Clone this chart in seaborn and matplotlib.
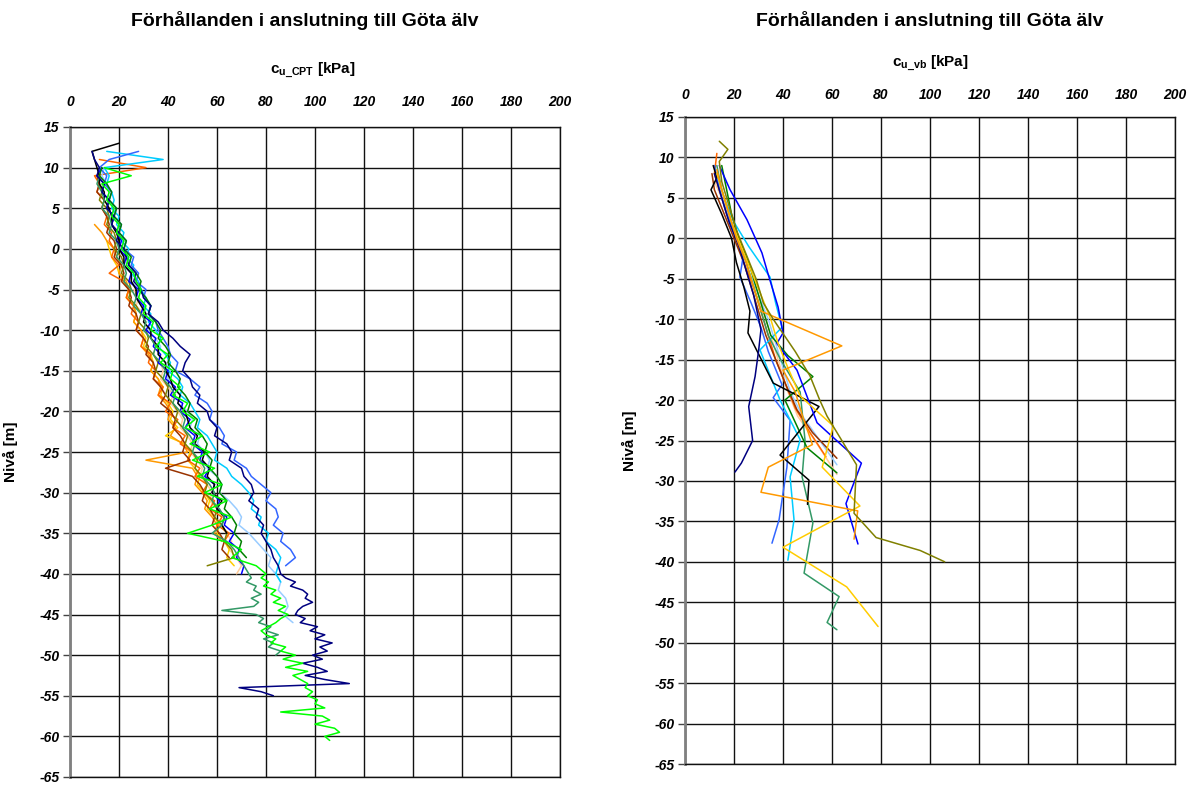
import numpy as np
import pandas as pd
import matplotlib
matplotlib.use("Agg")
import matplotlib.pyplot as plt
import seaborn as sns

sns.set_theme(style="white")
plt.rcParams["font.family"] = ["Liberation Sans", "DejaVu Sans"]
plt.rcParams["mathtext.fontset"] = "custom"
plt.rcParams["mathtext.rm"] = "Liberation Sans"
plt.rcParams["mathtext.bf"] = "Liberation Sans:bold"
plt.rcParams["mathtext.it"] = "Liberation Sans:italic"
plt.rcParams["axes.unicode_minus"] = False
plt.rcParams["text.color"] = "black"
plt.rcParams["axes.labelcolor"] = "black"
plt.rcParams["xtick.color"] = "black"
plt.rcParams["ytick.color"] = "black"

TITLE = "Förhållanden i anslutning till Göta älv"
X_TICKS = [0, 20, 40, 60, 80, 100, 120, 140, 160, 180, 200]
Y_TICKS = [15, 10, 5, 0, -5, -10, -15, -20, -25, -30, -35, -40, -45, -50, -55, -60, -65]

# ---------------- CPT soundings (cu_CPT, kPa); 1 m readings from a top level,
# deep parts of some soundings read every 0.5 m ----------------
cpt_black_top = 13
cpt_black = [20, 9, 10, 11, 12, 12, 14, 14, 16, 17, 17, 19, 20, 20, 22, 22, 25, 25, 27, 27,
             29, 31, 30, 33, 33, 36, 36, 39, 39, 41, 42, 45, 44, 47, 48, 49, 52, 51, 55, 54,
             57, 56, 59, 58, 62, 60, 63, 62, 64]

cpt_navy_top = 12
cpt_navy = [9, 10, 12, 11, 14, 13, 16, 15, 18, 17, 20, 19, 22, 23, 24, 27, 26, 29, 30, 33,
            32, 36, 38, 42, 45, 49, 47, 46, 49, 50, 53, 52, 56, 57, 60, 59, 64, 66, 65, 70,
            71, 74, 75, 73, 77, 76, 79, 78, 80, 82, 83, 85, 86]
cpt_navy_deep_top = -40.5
cpt_navy_deep = [88, 92, 90, 95, 97, 96, 99, 95, 93, 92, 96, 94, 101, 98, 104, 100, 107, 102, 105, 99,
                 103, 95, 101, 105, 96, 104, 114, 69, 78, 83]

cpt_blue_top = 10
cpt_blue = [13, 11, 14, 13, 16, 15, 18, 17, 19, 21, 20, 23, 22, 25, 24, 28, 27, 30, 29, 33,
            31, 35, 34, 37, 36, 40, 39, 43, 41, 46, 45, 49, 47, 51, 50, 54, 53, 57, 55, 59,
            58, 61, 60, 64, 63, 67, 65, 69, 68, 71, 70]

cpt_royal_top = 12
cpt_royal = [28, 16, 12, 15, 14, 17, 16, 19, 18, 21, 20, 23, 22, 26, 25, 28, 27, 31, 30, 33,
             32, 35, 36, 38, 40, 41, 44, 43, 49, 53, 51, 56, 58, 57, 61, 63, 62, 68, 67, 72,
             74, 78, 82, 80, 84, 85, 83, 87, 86, 90, 92, 88]

cpt_sky_top = 12
cpt_sky = [15, 38, 14, 16, 15, 17, 18, 17, 20, 19, 22, 21, 24, 23, 26, 25, 28, 29, 31, 30,
           33, 32, 35, 37, 36, 39, 41, 40, 44, 46, 45, 49, 51, 53, 52, 56, 58, 60, 59, 64,
           66, 70, 73, 75, 74, 78, 77, 81, 80, 84, 86, 85, 84, 86]

cpt_pale_top = 10
cpt_pale = [14, 13, 15, 16, 15, 18, 17, 20, 19, 22, 21, 24, 23, 26, 25, 28, 27, 30, 31, 33,
            32, 35, 37, 36, 39, 41, 40, 43, 45, 44, 48, 50, 49, 53, 52, 55, 57, 56, 60, 62,
            61, 65, 68, 70, 69, 73, 76, 79, 82, 81, 84, 86, 85, 88, 89, 87, 91]

cpt_lime_top = 10
cpt_lime = [14, 25, 13, 16, 15, 18, 17, 20, 19, 22, 21, 24, 23, 26, 27, 29, 28, 31, 30, 34,
            33, 38, 35, 40, 37, 42, 41, 45, 42, 48, 46, 51, 47, 54, 49, 57, 50, 59, 52, 62,
            55, 64, 57, 66, 58, 48, 63, 70, 66, 76, 80]
cpt_lime_deep_top = -40.5
cpt_lime_deep = [78, 81, 79, 84, 82, 86, 83, 88, 85, 89, 86, 84, 81, 78, 80, 84, 82, 88, 86, 92,
                 87, 95, 88, 97, 91, 94, 97, 96, 99, 97, 101, 100, 104, 86, 103, 106, 100, 108, 110, 104,
                 106]

cpt_green_top = 10
cpt_green = [13, 12, 15, 17, 16, 19, 18, 21, 20, 23, 22, 25, 24, 27, 29, 28, 31, 33, 32, 35,
             37, 36, 39, 41, 40, 43, 45, 44, 47, 49, 48, 52, 51, 54, 56, 55, 58, 57, 60, 62,
             61, 64, 63, 66, 68, 67, 70, 69, 72]

cpt_sea_top = 9
cpt_sea = [12, 11, 13, 14, 13, 16, 17, 16, 19, 20, 19, 22, 23, 22, 25, 27, 26, 29, 31, 30,
           33, 35, 34, 37, 39, 38, 41, 43, 42, 45, 47, 46, 49, 51, 50, 53, 55, 54, 57, 59,
           58, 61, 63, 62, 58, 64, 67, 69, 71, 73]
cpt_sea_deep_top = -40.5
cpt_sea_deep = [74, 72, 76, 75, 78, 74, 77, 75, 62, 76, 79, 77, 82, 80, 85, 79, 83, 81, 86, 84]

cpt_olive_top = 8
cpt_olive = [12, 13, 12, 15, 16, 15, 18, 19, 18, 21, 22, 21, 24, 25, 24, 27, 29, 28, 31, 32,
             31, 34, 36, 35, 38, 40, 39, 42, 44, 43, 46, 48, 47, 50, 52, 51, 54, 56, 55, 58,
             60, 59, 62, 64, 63, 66, 67, 56]

cpt_brown_top = 9
cpt_brown = [11, 12, 11, 14, 13, 15, 16, 15, 18, 19, 18, 21, 22, 21, 24, 25, 24, 27, 28, 27,
             30, 32, 31, 34, 35, 34, 37, 39, 37, 41, 43, 42, 45, 47, 46, 49, 39, 50, 53, 55,
             54, 57, 59, 58, 61, 63, 62, 65]

cpt_red_top = 11
cpt_red = [12, 31, 10, 12, 11, 14, 13, 15, 14, 17, 16, 18, 17, 20, 16, 22, 24, 23, 26, 25,
           28, 27, 30, 29, 33, 32, 35, 34, 38, 36, 41, 39, 44, 42, 47, 45, 50, 48, 53, 51,
           56, 54, 59, 57, 62, 60, 65, 63]

cpt_orange_top = 3
cpt_orange = [10, 13, 15, 18, 19, 21, 20, 23, 24, 23, 26, 27, 26, 29, 30, 29, 32, 34, 33, 36,
              37, 36, 39, 41, 40, 43, 41, 46, 48, 31, 50, 52, 51, 54, 56, 55, 58, 60, 59, 62]

cpt_gold_top = 1
cpt_gold = [15, 16, 17, 19, 20, 22, 24, 23, 26, 27, 26, 29, 31, 30, 33, 34, 33, 36, 38, 37,
            40, 42, 41, 44, 39, 47, 49, 48, 51, 53, 52, 55, 57, 56, 59, 61, 60, 63, 65, 64,
            67]

cpt_peach_top = -5
cpt_peach = [26, 28, 27, 30, 31, 30, 33, 35, 34, 37, 38, 37, 40, 42, 41, 44, 46, 45, 48, 50,
             49, 52, 54, 53, 56, 58, 57, 60, 62, 61, 64, 66, 65, 68, 70, 68]

# ---------------- Vane tests (cu_vb, kPa) ----------------
vb_olive_lvl = [12, 11, 9.5, 7, 4, 1, -2, -5, -8, -10, -14, -17, -20, -22, -25, -28, -31, -34, -37, -38.6, -40]
vb_olive = [14, 17.5, 14, 15, 18, 21, 25, 29, 32, 36, 45, 51, 55, 58, 64, 70, 69.5, 69, 78, 96, 106]

vb_orange_lvl = [8.5, 6, 3, 0, -3, -6, -9, -13.3, -16.3, -19, -22, -25.5, -28.3, -31.4, -33.7, -37.2]
vb_orange = [13, 15, 18, 21, 25, 28, 31, 64, 40, 45, 48, 52, 34, 31, 70.5, 69]

vb_gold_lvl = [8, 5, 2, -1, -4, -7, -10, -13, -16, -19.5, -23.2, -28.3, -33.1, -38.2, -43.1, -48]
vb_gold = [13, 16, 19, 23, 27, 31, 35, 38, 42, 47, 60.5, 56, 71.4, 40, 66, 78.8]

vb_navy_lvl = [8, 5, 2, -1, -4, -7, -11.3, -14, -17.1, -20.8, -25, -27.8, -28.9]
vb_navy = [12, 15, 18, 22, 25, 28, 31, 30, 28.6, 26, 27.6, 23, 20.4]

vb_black_lvl = [9, 7.5, 6, 3, 0, -3, -6, -9, -11.7, -17.9, -20.8, -26.8, -29.9, -32.9]
vb_black = [11.5, 13, 10.6, 15, 19, 21, 24, 26.5, 25.7, 36, 54.7, 38.8, 50.6, 50]

vb_blue_lvl = [9, 6, 2.3, -1.8, -4.5, -8.5, -11.7, -13, -16.3, -22.8, -27.8, -32.8, -37.8]
vb_blue = [14, 18.4, 25.3, 31.4, 34, 38, 40, 37.5, 45.7, 53.9, 72, 65.7, 70.6]

vb_royal_lvl = [9, 6, 3, 0, -2.3, -4.8, -8, -11, -14, -18.1, -19.7, -22.5, -28.3, -34.8, -37.7]
vb_royal = [12, 14, 17, 21, 23.7, 22.4, 27, 31, 34, 39.6, 36, 42.9, 41.6, 38.4, 35.5]

vb_sky_lvl = [8, 5, 2, -1, -4.8, -8, -11, -13.8, -20, -24.9, -29.5, -34.8, -39.8]
vb_sky = [13, 16, 20, 26, 34.7, 37, 39.6, 30.6, 38.8, 47, 42.9, 44.5, 42]

vb_sea_lvl = [9, 6, 3, 0, -3, -6, -9, -12, -15, -19, -25, -29.5, -35.2, -41.4, -44.3, -47.5, -48.4]
vb_sea = [13, 15, 18, 21, 25, 28, 31, 34, 39, 47, 49, 47.8, 52.2, 48.6, 62.9, 58, 62]

vb_green_lvl = [9, 6, 3, 0, -3, -6, -9, -12, -14.5, -17.1, -20, -25.9, -29]
vb_green = [15, 17, 19, 22, 26, 29, 32, 35, 42, 52.2, 40.8, 49.8, 62]

vb_brown_lvl = [8, 6, 3, 0, -3, -6, -9, -12, -15, -18, -21.2, -24, -27.2]
vb_brown = [11, 12, 16, 20, 24, 27, 30, 33, 37, 41, 45.7, 52, 62]

vb_pale_lvl = [8, 5, 2, -1, -4, -7, -10, -13, -16, -19, -22, -25, -28]
vb_pale = [13, 15, 19, 23, 26, 30, 34, 37, 40, 43, 48, 55, 62]

vb_red_lvl = [10.5, 8, 6, 3, 0, -3, -6, -9, -12, -15, -18, -21, -24, -27]
vb_red = [13, 12, 14, 17, 21, 24, 28, 31, 34, 37, 41, 45, 51, 57.5]

vb_peach_lvl = [7, 5, 2, -1, -4, -7, -10, -13, -16, -19, -22, -25, -29.2]
vb_peach = [12, 15, 19, 22, 25, 29, 33, 36, 39, 42, 46, 53, 62]

COLORS = {
    "black": "#000000", "navy": "#000080", "blue": "#0000FF", "royal": "#3366FF",
    "sky": "#00CCFF", "pale": "#99CCFF", "lime": "#00FF00", "green": "#008000",
    "sea": "#339966", "olive": "#808000", "brown": "#993300", "red": "#FF6600",
    "orange": "#FF9900", "gold": "#FFCC00", "peach": "#FFCC99",
}


def sounding(name, top, values, deep_top=None, deep_values=None):
    levels = list(top - np.arange(len(values)) * 1.0)
    cu = list(values)
    if deep_values is not None:
        levels += list(deep_top - np.arange(len(deep_values)) * 0.5)
        cu += list(deep_values)
    return pd.DataFrame({"profile": name, "level": levels, "cu": cu})


cpt = pd.concat([
    sounding("peach", cpt_peach_top, cpt_peach),
    sounding("gold", cpt_gold_top, cpt_gold),
    sounding("orange", cpt_orange_top, cpt_orange),
    sounding("red", cpt_red_top, cpt_red),
    sounding("brown", cpt_brown_top, cpt_brown),
    sounding("olive", cpt_olive_top, cpt_olive),
    sounding("pale", cpt_pale_top, cpt_pale),
    sounding("sky", cpt_sky_top, cpt_sky),
    sounding("royal", cpt_royal_top, cpt_royal),
    sounding("blue", cpt_blue_top, cpt_blue),
    sounding("black", cpt_black_top, cpt_black),
    sounding("sea", cpt_sea_top, cpt_sea, cpt_sea_deep_top, cpt_sea_deep),
    sounding("green", cpt_green_top, cpt_green),
    sounding("navy", cpt_navy_top, cpt_navy, cpt_navy_deep_top, cpt_navy_deep),
    sounding("lime", cpt_lime_top, cpt_lime, cpt_lime_deep_top, cpt_lime_deep),
], ignore_index=True)

vane = pd.concat([
    pd.DataFrame({"profile": n, "level": l, "cu": v}) for n, l, v in [
        ("peach", vb_peach_lvl, vb_peach), ("pale", vb_pale_lvl, vb_pale),
        ("red", vb_red_lvl, vb_red), ("brown", vb_brown_lvl, vb_brown),
        ("royal", vb_royal_lvl, vb_royal), ("sky", vb_sky_lvl, vb_sky),
        ("sea", vb_sea_lvl, vb_sea), ("green", vb_green_lvl, vb_green),
        ("black", vb_black_lvl, vb_black), ("navy", vb_navy_lvl, vb_navy),
        ("blue", vb_blue_lvl, vb_blue), ("gold", vb_gold_lvl, vb_gold),
        ("orange", vb_orange_lvl, vb_orange), ("olive", vb_olive_lvl, vb_olive),
    ]
], ignore_index=True)

fig = plt.figure(figsize=(12, 7.85), dpi=100)
ax1 = fig.add_axes([70 / 1200, 1 - 777 / 785, 490 / 1200, 650 / 785])
ax2 = fig.add_axes([685 / 1200, 1 - 764 / 785, 490 / 1200, 647 / 785])

sns.lineplot(data=cpt, x="cu", y="level", hue="profile", palette=COLORS, sort=False,
             estimator=None, legend=False, linewidth=1.1, ax=ax1)
sns.lineplot(data=vane, x="cu", y="level", hue="profile", palette=COLORS, sort=False,
             estimator=None, legend=False, linewidth=1.1, ax=ax2)


def style(ax, xpad):
    ax.set_xlim(0, 200)
    ax.set_ylim(-65, 15)
    ax.set_xticks(X_TICKS)
    ax.set_yticks(Y_TICKS)
    ax.xaxis.tick_top()
    ax.set_axisbelow(True)
    ax.grid(True, color="#111111", linewidth=1.0)
    ax.tick_params(axis="x", top=True, bottom=False, length=0, pad=xpad, labelsize=10)
    ax.tick_params(axis="y", left=True, length=5, width=1, color="#444444", pad=2.5, labelsize=10)
    for lab in ax.get_xticklabels() + ax.get_yticklabels():
        lab.set_fontweight("bold")
        lab.set_fontstyle("italic")
        lab.set_color("black")
    for side in ["top", "right", "bottom"]:
        ax.spines[side].set_color("#111111")
        ax.spines[side].set_linewidth(1.0)
    ax.spines["left"].set_color("#808080")
    ax.spines["left"].set_linewidth(2.0)
    ax.set_xlabel("")
    ax.set_ylabel("Nivå [m]", fontsize=11, fontweight="bold", color="black")


style(ax1, 13)
style(ax2, 11)
ax1.yaxis.set_label_coords(-0.106, 0.5)
ax2.yaxis.set_label_coords(-0.098, 0.5)

fig.text(305 / 1200, 1 - 20 / 785, TITLE, ha="center", va="center", fontsize=14, fontweight="bold")
fig.text(930 / 1200, 1 - 20 / 785, TITLE, ha="center", va="center", fontsize=14, fontweight="bold")
fig.text(313 / 1200, 1 - 70 / 785, r"$\mathbf{c}_{\mathbf{u\_CPT}}$ [kPa]",
         ha="center", va="center", fontsize=11, fontweight="bold")
fig.text(930 / 1200, 1 - 63 / 785, r"$\mathbf{c}_{\mathbf{u\_vb}}$ [kPa]",
         ha="center", va="center", fontsize=11, fontweight="bold")

fig.savefig("out.png", dpi=100)
